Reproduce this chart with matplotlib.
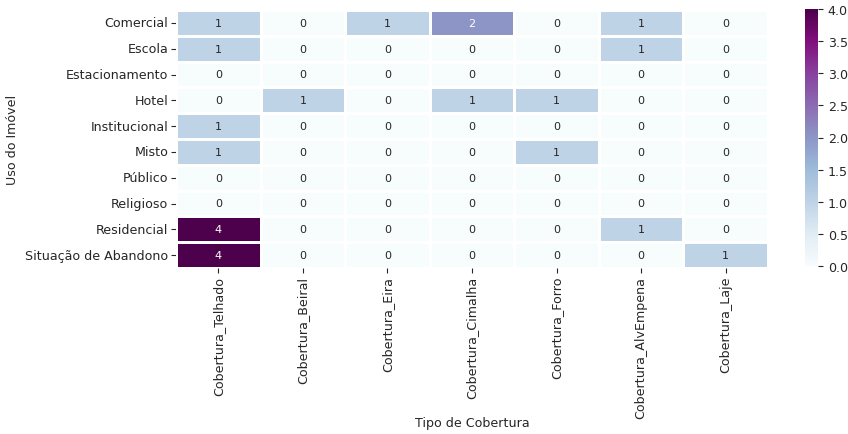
import matplotlib
matplotlib.use("Agg")
import matplotlib.pyplot as plt
import seaborn as sns
import pandas as pd

usos = ["Comercial", "Escola", "Estacionamento", "Hotel", "Institucional",
        "Misto", "Público", "Religioso", "Residencial", "Situação de Abandono"]
coberturas = ["Cobertura_Telhado", "Cobertura_Beiral", "Cobertura_Eira",
              "Cobertura_Cimalha", "Cobertura_Forro", "Cobertura_AlvEmpena",
              "Cobertura_Laje"]

telhado   = [1, 1, 0, 0, 1, 1, 0, 0, 4, 4]
beiral    = [0, 0, 0, 1, 0, 0, 0, 0, 0, 0]
eira      = [1, 0, 0, 0, 0, 0, 0, 0, 0, 0]
cimalha   = [2, 0, 0, 1, 0, 0, 0, 0, 0, 0]
forro     = [0, 0, 0, 1, 0, 1, 0, 0, 0, 0]
alvempena = [1, 1, 0, 0, 0, 0, 0, 0, 1, 0]
laje      = [0, 0, 0, 0, 0, 0, 0, 0, 0, 1]

df = pd.DataFrame(
    dict(zip(coberturas, [telhado, beiral, eira, cimalha, forro, alvempena, laje])),
    index=usos,
)

sns.set_style("ticks")
plt.rcParams["font.family"] = ["DejaVu Sans"]

fs = 9.1
fig = plt.figure(figsize=(8.48, 4.35), dpi=100)
ax = fig.add_axes([176 / 848, (435 - 269) / 435, 592 / 848, 258 / 435])
cax = fig.add_axes([805 / 848, (435 - 267) / 435, 13 / 848, 257 / 435])

sns.heatmap(df, ax=ax, cbar_ax=cax, cmap="BuPu", vmin=0, vmax=4,
            annot=True, fmt="d", linewidths=1, linecolor="white",
            annot_kws={"fontsize": 8})

ax.set_xlabel("Tipo de Cobertura", fontsize=fs)
ax.set_ylabel("Uso do Imóvel", fontsize=fs)
ax.xaxis.set_label_coords(0.5, (269 - 417) / 258)
ax.yaxis.set_label_coords((19 - 176) / 592, 0.5)
ax.tick_params(axis="x", rotation=90, labelsize=fs, pad=2)
ax.tick_params(axis="y", rotation=0, labelsize=fs, pad=2)
cax.tick_params(labelsize=fs)
for sp in cax.spines.values():
    sp.set_visible(False)

fig.savefig("out.png", dpi=100)
